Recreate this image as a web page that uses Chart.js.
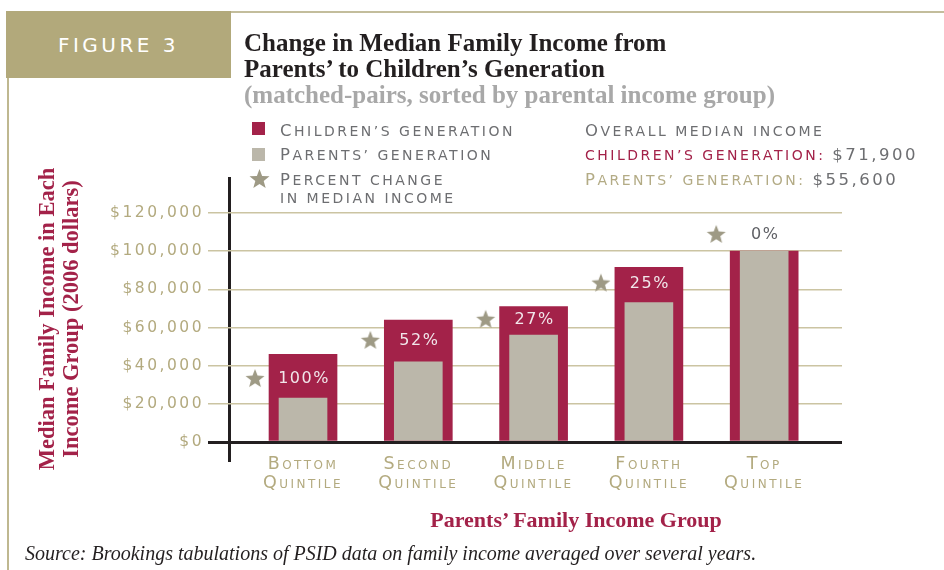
<!DOCTYPE html>
<html>
<head>
<meta charset="utf-8">
<script src="https://cdn.jsdelivr.net/npm/chart.js@4.4.1/dist/chart.umd.min.js"></script>
<style>
  body { margin:0; background:#fff; }
  #wrap { position:relative; width:944px; height:570px; overflow:hidden; background:#fff; }
  #c { position:absolute; left:0; top:0; }
  .abs { position:absolute; white-space:nowrap; }
  .fig { left:6px; top:11px; width:225px; height:67px; background:#b2a97b; color:#fff;
         font:20px "DejaVu Sans"; letter-spacing:3.5px; display:flex; align-items:center; justify-content:center; }
  .topline { left:231px; top:11px; width:713px; height:2px; background:#c3bd9c; }
  .leftline { left:7px; top:78px; width:1.5px; height:492px; background:#bfb890; }
  .title { left:244px; top:30px; font:bold 25px/26px "Liberation Serif"; color:#231f20; }
  .title .sub { color:#a8a8a8; }
  .sc { font:14px/16px "DejaVu Sans"; letter-spacing:2.5px; text-transform:uppercase; color:#6d6e71; }
  .sc i { font-style:normal; font-size:16.5px; }
  .sw { width:13px; height:13px; }
  .ytitle { left:-101px; top:295px; width:320px; height:48px; transform:rotate(-90deg); text-align:center;
            font:bold 22.5px/24px "Liberation Serif"; color:#a32249; }
  .xtitle { left:376px; top:508px; width:400px; text-align:center; font:bold 22px/24px "Liberation Serif"; color:#a32249; }
  .source { left:25px; top:542px; font:italic 20px/22px "Liberation Serif"; color:#231f20; }
</style>
</head>
<body>
<div id="wrap">
  <canvas id="c" width="944" height="570"></canvas>
  <div class="abs topline"></div>
  <div class="abs leftline"></div>
  <div class="abs fig">FIGURE 3</div>
  <div class="abs title">Change in Median Family Income from<br>Parents’ to Children’s Generation<br><span class="sub">(matched-pairs, sorted by parental income group)</span></div>

  <div class="abs sw" style="left:252px;top:122px;background:#a32249"></div>
  <div class="abs sw" style="left:252px;top:148px;background:#bbb7aa"></div>
  <svg class="abs" style="left:249px;top:169px" width="21" height="20" viewBox="-10 -10 20 19">
    <polygon fill="#9e9a85" points="0,-10 2.5,-3.4 9.51,-3.09 4,1.3 5.88,8.09 0,4.2 -5.88,8.09 -4,1.3 -9.51,-3.09 -2.5,-3.4"/>
  </svg>
  <div class="abs sc" style="left:280px;top:123px"><i>C</i>hildren’s generation</div>
  <div class="abs sc" style="left:280px;top:147px"><i>P</i>arents’ generation</div>
  <div class="abs sc" style="left:280px;top:172px"><i>P</i>ercent change</div>
  <div class="abs sc" style="left:280px;top:190px">in median income</div>

  <div class="abs sc" style="left:585px;top:123px"><i>O</i>verall median income</div>
  <div class="abs sc" style="left:585px;top:147px"><span style="color:#a32249">children’s generation:</span> <i>$71,900</i></div>
  <div class="abs sc" style="left:585px;top:172px"><span style="color:#b3ab85"><i>P</i>arents’ generation:</span> <i>$55,600</i></div>

  <div class="abs ytitle">Median Family Income in Each<br>Income Group (2006 dollars)</div>
  <div class="abs xtitle">Parents’ Family Income Group</div>
  <div class="abs source">Source: Brookings tabulations of PSID data on family income averaged over several years.</div>
</div>

<script>
// categories (parents' income quintile)
const categories     = [['Bottom', 'Quintile'], ['Second', 'Quintile'], ['Middle', 'Quintile'], ['Fourth', 'Quintile'], ['Top', 'Quintile']];
// median family income, 2006 dollars
const childrenIncome = [46000, 63900, 71000, 91500, 100000];
const parentsIncome  = [23000, 42000, 56000, 73000, 100000];
// percent change labels and the level they sit at
const pctChange      = ['100%', '52%', '27%', '25%', '0%'];
const labelLevel     = [33000, 53000, 64000, 83000, 108500];
// y axis ticks
const yTicks = [0, 20000, 40000, 60000, 80000, 100000, 120000];
const yMin = -6810, yMax = 138850;
const xMin = -0.642, xMax = 4.675;

const CRIMSON = '#a32249', GRAY = '#bbb7aa', TAN = '#b3aa7f', GRID = '#cbc4a2', DARK = '#231f20',
      STAR = '#9e9a85', LIGHT = '#f1e6ea', TEXTGRAY = '#5f6065';
const STAR_SHIFT = 0.416;   // star sits left of its bar

// filled five point star used as point style
function makeStar(r) {
  const cv = document.createElement('canvas');
  cv.width = cv.height = r * 2 + 2;
  const g = cv.getContext('2d');
  g.translate(r + 1, r + 1);
  g.beginPath();
  for (let k = 0; k < 10; k++) {
    const rad = k % 2 ? r * 0.43 : r;
    const a = -Math.PI / 2 + k * Math.PI / 5;
    g.lineTo(rad * Math.cos(a), rad * Math.sin(a));
  }
  g.closePath();
  g.fillStyle = STAR;
  g.fill();
  return cv;
}

const tracking = {
  id: 'tracking',
  beforeLayout(chart) { chart.ctx.letterSpacing = '2.5px'; },
  beforeDraw(chart)   { chart.ctx.letterSpacing = '2.5px'; },
};

const pctLabels = {
  id: 'pctLabels',
  afterDatasetsDraw(chart) {
    const { ctx, scales: { x, y } } = chart;
    ctx.save();
    ctx.font = '16px "DejaVu Sans"';
    ctx.letterSpacing = '1.5px';
    ctx.textAlign = 'center';
    ctx.textBaseline = 'middle';
    pctChange.forEach((t, i) => {
      ctx.fillStyle = childrenIncome[i] > labelLevel[i] ? LIGHT : TEXTGRAY;
      ctx.fillText(t, x.getPixelForValue(i) + 1, y.getPixelForValue(labelLevel[i]));
    });
    ctx.restore();
  }
};

new Chart(document.getElementById('c'), {
  type: 'bar',
  data: {
    datasets: [
      { label: "Parents' generation", data: parentsIncome.map((v, i) => ({ x: i, y: v })),
        backgroundColor: GRAY, grouped: false, barThickness: 48, order: 1 },
      { label: "Children's generation", data: childrenIncome.map((v, i) => ({ x: i, y: v })),
        backgroundColor: CRIMSON, grouped: false, barThickness: 68, order: 2 },
      { type: 'scatter', label: 'Percent change in median income',
        data: labelLevel.map((v, i) => ({ x: i - STAR_SHIFT, y: v })),
        pointStyle: makeStar(10), order: 0 },
    ]
  },
  options: {
    responsive: false, animation: false,
    layout: { padding: { left: 0, top: 177, right: 102, bottom: 0 } },
    plugins: { legend: { display: false }, tooltip: { enabled: false } },
    scales: {
      x: {
        type: 'linear', min: xMin, max: xMax, offset: false,
        // the only visible x grid line is the vertical axis, which runs a little below $0
        grid: {
          offset: false, tickLength: 7, lineWidth: 3,
          color: c => c.tick && c.tick.value === xMin ? DARK : 'rgba(0,0,0,0)'
        },
        border: { display: false },
        ticks: {
          autoSkip: false, maxRotation: 0, padding: -7.6,
          color: TAN, font: { family: '"DejaVu Sans"', size: 17.5, weight: 'small-caps', lineHeight: 1.1 },
          callback: v => categories[v] || ''
        },
        afterBuildTicks: s => { s.ticks = [{ value: xMin }].concat(categories.map((c, i) => ({ value: i }))); },
        afterFit: s => { s.height = 115; }
      },
      y: {
        min: yMin, max: yMax,
        border: { display: false },
        grid: {
          color: c => c.tick && c.tick.value === 0 ? DARK : GRID,
          lineWidth: c => c.tick && c.tick.value === 0 ? 3 : 1.5,
          tickLength: 21
        },
        ticks: {
          padding: 4, color: TAN, font: { family: '"DejaVu Sans"', size: 15.5 },
          callback: v => '$' + v.toLocaleString('en-US')
        },
        afterBuildTicks: s => { s.ticks = yTicks.map(v => ({ value: v })); },
        afterFit: s => { s.width = 229; }
      }
    }
  },
  plugins: [tracking, pctLabels]
});
</script>
</body>
</html>
